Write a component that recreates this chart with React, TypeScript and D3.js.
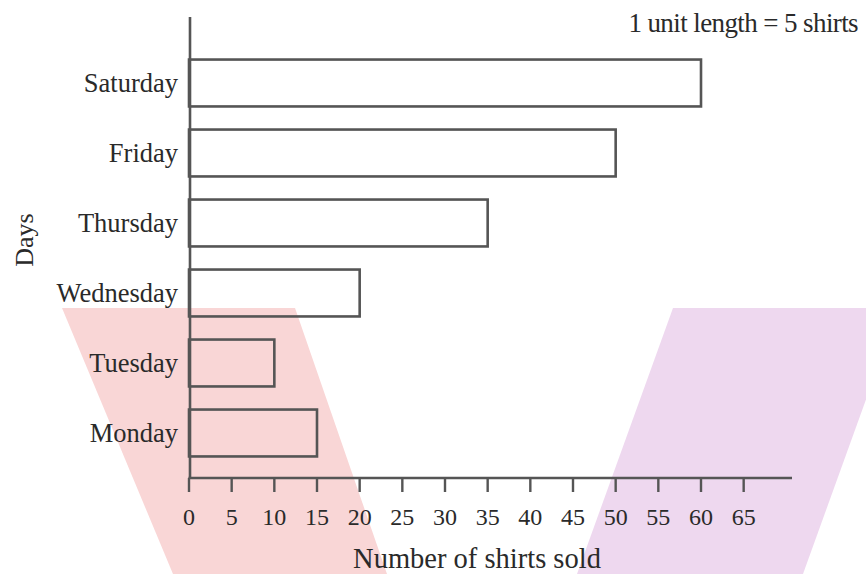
import React from "react";
import * as d3 from "d3";

const days = ["Saturday", "Friday", "Thursday", "Wednesday", "Tuesday", "Monday"];
const shirtsSold = [60, 50, 35, 20, 10, 15];
const tickValues = [0, 5, 10, 15, 20, 25, 30, 35, 40, 45, 50, 55, 60, 65];
const xAxisTitle = "Number of shirts sold";
const yAxisTitle = "Days";
const scaleNote = "1 unit length = 5 shirts";

const W = 866;
const H = 574;
const FONT = "'Liberation Serif', 'Times New Roman', serif";
const INK = "#555";
const TEXT = "#2a2a2a";

export default function App() {
  const x = d3.scaleLinear().domain([0, 60]).range([189, 701]);
  const y = d3.scaleBand<string>().domain(days).range([48, 468]).paddingInner(0.33).paddingOuter(0.165);
  const axisY = 478;
  const axisEndX = 792;
  const line = d3.line();

  const pink: [number, number][] = [[62, 308], [295, 308], [387, 574], [173, 574]];
  const purple: [number, number][] = [[673, 308], [899, 308], [803, 574], [577, 574]];

  return (
    <svg width={W} height={H} style={{ position: "absolute", left: 0, top: 0, background: "#fff" }}>
      <path d={line(pink) + "Z"} fill="#f9d6d6" />
      <path d={line(purple) + "Z"} fill="#eed8ef" />
      {days.map((d, i) => (
        <rect
          key={d}
          x={x(0)}
          y={y(d)}
          width={x(shirtsSold[i]) - x(0)}
          height={y.bandwidth()}
          fill="none"
          stroke={INK}
          strokeWidth={2.6}
        />
      ))}
      {days.map((d) => (
        <text
          key={"l" + d}
          x={178}
          y={(y(d) ?? 0) + y.bandwidth() / 2 + 9}
          textAnchor="end"
          fontFamily={FONT}
          fontSize={26.5}
          fill={TEXT}
        >
          {d}
        </text>
      ))}
      <line x1={190} y1={17} x2={190} y2={axisY + 1} stroke={INK} strokeWidth={2.6} />
      <line x1={188.5} y1={axisY} x2={axisEndX} y2={axisY} stroke={INK} strokeWidth={2.6} />
      {tickValues.map((t) => (
        <g key={"t" + t}>
          <line x1={x(t)} y1={axisY} x2={x(t)} y2={axisY + 14} stroke={INK} strokeWidth={2.4} />
          <text x={x(t)} y={525} textAnchor="middle" fontFamily={FONT} fontSize={24} fill={TEXT}>
            {t}
          </text>
        </g>
      ))}
      <text x={477} y={568} textAnchor="middle" fontFamily={FONT} fontSize={28.5} fill={TEXT}>
        {xAxisTitle}
      </text>
      <text
        transform="translate(33,240) rotate(-90)"
        textAnchor="middle"
        fontFamily={FONT}
        fontSize={26}
        fill={TEXT}
      >
        {yAxisTitle}
      </text>
      <text x={858} y={32} textAnchor="end" fontFamily={FONT} fontSize={27} fill={TEXT} letterSpacing={-0.6}>
        {scaleNote}
      </text>
    </svg>
  );
}
